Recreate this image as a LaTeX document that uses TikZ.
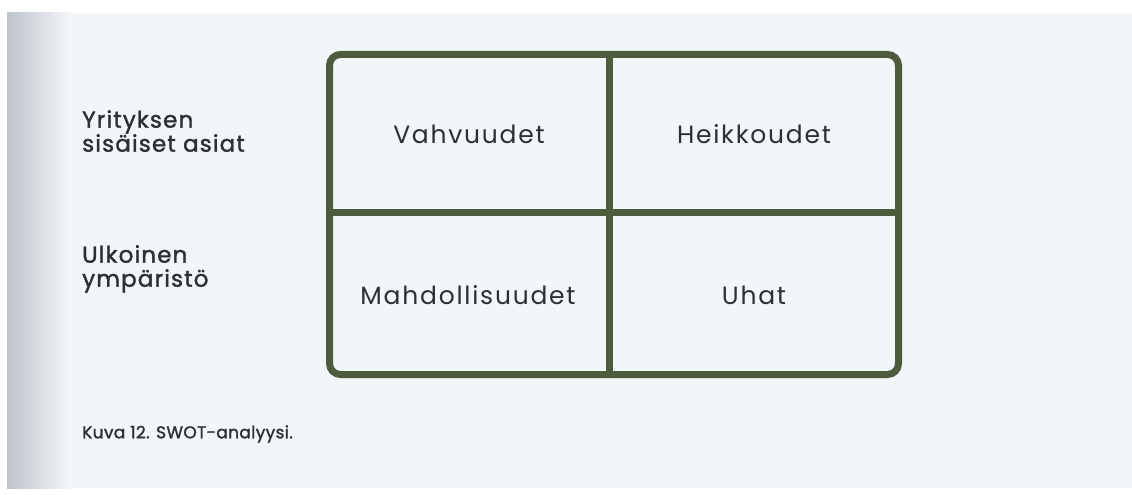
\documentclass[tikz,border=0pt]{standalone}
\usepackage{fontspec}
\setmainfont{Poppins}
\newfontfamily\labelfont[FakeBold=1.5]{Poppins}
\usetikzlibrary{positioning}
\definecolor{frame}{RGB}{78,92,62}
\definecolor{page}{RGB}{243,246,249}
\definecolor{shade}{RGB}{190,196,203}
\definecolor{ink}{RGB}{45,47,50}
\tikzset{
  cell/.style={text=ink, font=\fontsize{25}{27}\selectfont\addfontfeatures{LetterSpace=7}, inner sep=0pt},
  side/.style={text=ink, font=\labelfont\fontsize{23}{24}\selectfont\addfontfeatures{LetterSpace=5}, align=left, anchor=north west, inner sep=0pt},
  capt/.style={text=ink, font=\labelfont\fontsize{17}{19}\selectfont\addfontfeatures{LetterSpace=2}, anchor=west, inner sep=0pt},
  gridline/.style={draw=frame, line width=7pt}
}
\begin{document}
\begin{tikzpicture}[x=1pt,y=-1pt]
\useasboundingbox (0,0) rectangle (1132,495);
\fill[white] (0,0) rectangle (1132,495);
\fill[page] (7,13) rectangle (1132,488);
\shade[left color=shade, right color=page] (7,13) rectangle (70,488);
% frame
\draw[gridline, rounded corners=11pt] (329.5,54.5) rectangle (898.5,374.5);
\draw[gridline] (333,212.5) -- (895,212.5);
\draw[gridline] (609.5,58) -- (609.5,371);
% cells
\node[cell] (s) at (469,134) {Vahvuudet};
\node[cell] (w) at (754,134) {Heikkoudet};
\node[cell] (o) at (468,295) {Mahdollisuudet};
\node[cell] (t) at (754,295) {Uhat};
% side labels
\node[side] (int) at (82,110) {Yrityksen\\sisäiset asiat};
\node[side] (ext) at (82,245) {Ulkoinen\\ympäristö};
% caption
\node[capt] (cap) at (82,434) {Kuva 12. SWOT-analyysi.};
\end{tikzpicture}
\end{document}
